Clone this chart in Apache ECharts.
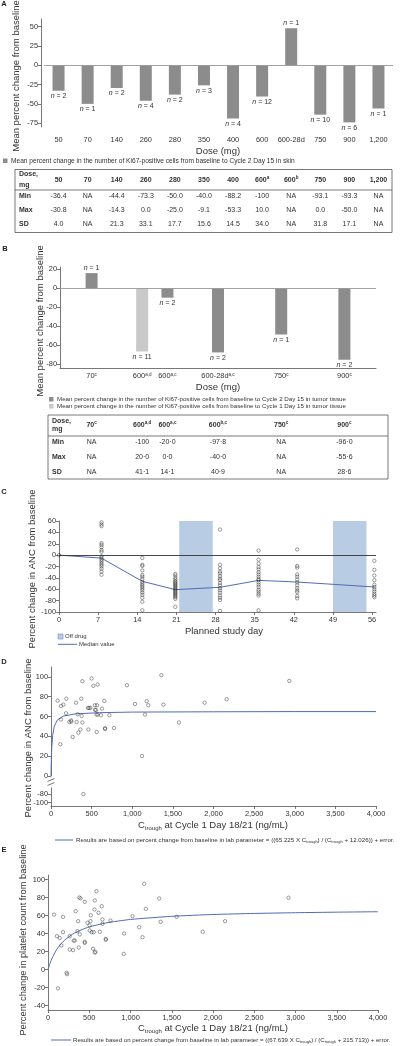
<!DOCTYPE html>
<html><head><meta charset="utf-8">
<script src="https://cdn.jsdelivr.net/npm/echarts@6/dist/echarts.min.js"></script>
<style>html,body{margin:0;padding:0;background:#fff}#c{width:400px;height:1046px}</style>
</head><body><div id="c"></div>
<script>
const FONT = '"Liberation Sans", Arial, Helvetica, sans-serif';

// ---------- Panel A data ----------
const doseA = ['50','70','140','260','280','350','400','600','600-28d','750','900','1,200'];
const meanA = [-33,-50,-29.5,-46,-38,-26,-69,-40.5,48,-64,-74,-56];
const nA = [2,1,2,4,2,3,4,12,1,10,6,1];
const ticksA = [-75,-50,-25,0,25,50];
const tableHeadA = ['50','70','140','260','280','350','400','600{s|a}','600{s|b}','750','900','1,200'];
const minA = ['-36.4','NA','-44.4','-73.3','-50.0','-40.0','-88.2','-100','NA','-93.1','-93.3','NA'];
const maxA = ['-30.8','NA','-14.3','0.0','-25.0','-9.1','-53.3','10.0','NA','0.0','-50.0','NA'];
const sdA  = ['4.0','NA','21.3','33.1','17.7','15.6','14.5','34.0','NA','31.8','17.1','NA'];

// ---------- Panel B data ----------
const doseB = ['70{s|c}','600{s|a,d}','600{s|a,c}','600-28d{s|a,c}','750{s|c}','900{s|c}'];
const meanB = [16,-67,-10,-68,-49,-75.8];
const nB = [1,11,2,2,1,2];
const visitB = ['C2D15','C1D15','C2D15','C2D15','C2D15','C2D15'];
const ticksB = [-80,-60,-40,-20,0,20];
const tableHeadB = ['70{s|c}','600{s|a,d}','600{s|a,c}','600{s|b,c}','750{s|c}','900{s|c}'];
const minB = ['NA','-100','-20·0','-97·8','NA','-96·0'];
const maxB = ['NA','20·0','0·0','-40·0','NA','-55·6'];
const sdB  = ['NA','41·1','14·1','40·9','NA','28·6'];

// ---------- Panel C data ----------
const ancDays = [0, 7.6, 14.9, 20.8, 28.8, 35.7, 42.6, 56.4];
const ancValues = [
  [0],
  [57.7,54,51,21,18,14,9,6,-2,-5,-8,-11,-14,-17,-20,-24,-29,-34.5],
  [-5,-17,-19,-27,-35,-38,-42,-47,-50,-53,-56,-59,-62,-66,-70,-75,-82,-97],
  [-33,-36,-40,-43,-46,-48,-50,-52,-54,-56,-58,-60,-62,-64,-66,-68,-70,-72,-74,-77,-91],
  [45,-17,-23,-29,-32,-37,-41,-44,-49,-53,-58,-62,-66,-71,-75,-79,-98],
  [8,-8,-15,-21,-25,-30,-34,-38,-42,-44,-48,-52,-56,-61,-64,-68,-71,-97],
  [10,-19,-22,-34,-38,-43,-48,-53,-58,-62,-65,-72,-76],
  [-10,-26,-36,-44,-52,-56,-60,-64,-68,-71,-74]
];
const ancMedian = [0,-5.3,-46,-60.7,-56.6,-44.4,-47.3,-56];
const offDrugStart = [21.5, 49];
const offDrugEnd = [27.5, 55];
const ticksCx = [0,7,14,21,28,35,42,49,56];

// ---------- Panel D data ----------
const ctroughD = [82,123,152,189,185,123,308,328,373,386,377,386,246,455,470,485,500,521,574,540,566,541,555,560,575,615,628,656,718,935,1034,1157,1178,1198,1358,1383,1575,1891,2162,2933,115,226,250,267,337,361,460,562,665,665,775,1120,316,398];
const ancChangeD = [76,70.7,72,78,63.3,57,74,62.3,78,95.7,60.6,54,56,68.7,68.7,68.7,98.4,91,92.3,71.4,71.4,66.7,66.7,62,62,61.3,68,75.8,61.3,91.6,72.7,62,75.5,71.4,101.7,72,54,74,77.5,96,32,54.5,55,39.4,43.8,46.9,46.9,44.4,48.2,47.5,48.5,20.2,54.5,-80];
const fitDx = [0,2,5,10,20,40,80,150,300,600,1000,2000,3000,4000];
const fitDy = [0,9.3,19.2,29.6,40.7,50.2,56.7,60.4,62.7,63.9,64.5,64.8,65.0,65.0];
const ticksDup = [0,20,40,60,80,100];
const ticksDlow = [-100,-80];

// ---------- Panel E data ----------
const ctroughE = [73,182,109,142,182,263,312,336,365,357,385,380,395,446,446,478,503,515,519,530,555,506,567,587,563,612,652,660,660,628,701,757,923,1025,1105,1146,1166,1186,1348,1365,1559,1875,2146,2915,163,263,304,324,373,446,547,567,575,701,919,231,225,121];
const pltChangeE = [61,58.5,37,35,41.5,37,32,64.8,53.7,42.6,39,80,79,75.2,30.8,51.9,48.9,53.7,60.3,41.5,41.5,43.3,76.7,87,66.7,63,70.3,55.6,50.8,41.9,34.1,54.4,40,59.3,47,35.9,95.2,67.4,78.9,53,58.5,41.9,53.7,79.7,26.7,22.2,21.5,32.2,24.4,29.6,23,18.9,19.5,33,17.4,-5.2,-3.7,-21];
const fitEx = [0,25,50,100,150,200,300,400,500,700,1000,1500,2000,2500,3000,3500,4000];
const fitEy = [0,7.0,12.7,21.4,27.7,32.5,39.4,43.9,47.3,51.7,55.6,59.1,61.1,62.3,63.1,63.7,64.2];
const ticksE = [-40,-20,0,20,40,60,80,100];
const ticksX4000 = [0,500,1000,1500,2000,2500,3000,3500,4000];

// ---------- layout / style ----------
const AXC = '#555', TXT = '#333', BAR_DARK = '#8c8c8c', BAR_LIGHT = '#c9c9c9', BLUE = '#4f6cb7';
const nSlotsB = 25, slotB = [2,6,8,12,17,22];
const SUPR = { s: { fontSize: 4.6, verticalAlign: 'top', fontFamily: FONT, fill: TXT, color: TXT } };
const ITR = { i: { fontStyle: 'italic', fontSize: 7, fontFamily: FONT, color: TXT } };

function yAx(grid, min, max, ticks) {
  return { type: 'value', gridIndex: grid, min, max, splitLine: { show: false },
    axisLine: { show: true, onZero: false, lineStyle: { color: AXC, width: 0.8 } },
    axisTick: { show: true, length: 3, customValues: ticks, lineStyle: { color: AXC, width: 0.8 } },
    axisLabel: { customValues: ticks, fontSize: 7.4, color: TXT, margin: 3, fontFamily: FONT } };
}
function xVal(grid, min, max, ticks, show) {
  return { type: 'value', gridIndex: grid, min, max, show: show !== false, splitLine: { show: false },
    axisLine: { show: true, onZero: false, lineStyle: { color: AXC, width: 0.8 } },
    axisTick: { show: true, length: 3, customValues: ticks, lineStyle: { color: AXC, width: 0.8 } },
    axisLabel: { customValues: ticks, fontSize: 7.4, color: TXT, margin: 4, fontFamily: FONT,
      formatter: v => Number(v).toLocaleString('en-US') } };
}
const g = (left, top, width, height) => ({ left, top, width, height, containLabel: false, outerBoundsMode: 'none' });

const catB = Array.from({ length: nSlotsB }, (_, k) => { const i = slotB.indexOf(k); return i >= 0 ? doseB[i] : ''; });
const dataB = Array.from({ length: nSlotsB }, () => '-');
slotB.forEach((k, i) => {
  dataB[k] = { value: meanB[i], itemStyle: { color: visitB[i] === 'C1D15' ? BAR_LIGHT : BAR_DARK },
    label: { position: meanB[i] < 0 ? 'bottom' : 'top' } };
});

const scatterC = [];
ancDays.forEach((d, i) => ancValues[i].forEach(v => scatterC.push([d, v])));
const ptsD = ctroughD.map((x, i) => [x, ancChangeD[i]]);
const ptsE = ctroughE.map((x, i) => [x, pltChangeE[i]]);
const scatterStyle = { symbol: 'circle', symbolSize: 3.4, itemStyle: { color: 'rgba(255,255,255,0)', borderColor: '#222', borderWidth: 0.55 } };

const option = {
  animation: false,
  backgroundColor: '#fff',
  textStyle: { fontFamily: FONT },
  grid: [g(44, 19, 349, 108), g(60, 267, 316, 101), g(59, 521, 317, 91), g(51, 667, 325, 109), g(51, 788, 325, 18), g(48, 875, 330, 135)],
  xAxis: [
    { type: 'category', gridIndex: 0, data: doseA, axisLine: { show: false }, axisTick: { show: false },
      axisLabel: { interval: 0, fontSize: 7.4, color: TXT, margin: 9, fontFamily: FONT } },
    { type: 'category', gridIndex: 1, data: catB, axisLine: { show: true, onZero: false, lineStyle: { color: AXC, width: 0.8 } }, axisTick: { show: false },
      axisLabel: { interval: 0, fontSize: 7.4, color: TXT, margin: 4, fontFamily: FONT, rich: SUPR } },
    xVal(2, 0, 56.7, ticksCx),
    xVal(3, 0, 4000, ticksX4000, false),
    xVal(4, 0, 4000, ticksX4000),
    xVal(5, 0, 4000, ticksX4000)
  ],
  yAxis: [
    Object.assign(yAx(0, -80, 60, ticksA), { offset: 3 }),
    yAx(1, -84.5, 22.5, ticksB),
    yAx(2, -100, 60, [-100,-80,-60,-40,-20,0,20,40,60]),
    yAx(3, 0, 110, ticksDup),
    yAx(4, -107.5, -66, ticksDlow),
    yAx(5, -45, 105, ticksE)
  ],
  series: [
    { type: 'bar', xAxisIndex: 0, yAxisIndex: 0, barWidth: 12, itemStyle: { color: BAR_DARK },
      data: meanA.map(v => ({ value: v, label: { position: v < 0 ? 'bottom' : 'top' } })),
      label: { show: true, distance: 2, fontSize: 7, color: TXT, fontFamily: FONT, rich: ITR,
        formatter: p => '{i|n} = ' + nA[p.dataIndex] },
      markLine: { silent: true, symbol: 'none', label: { show: false }, lineStyle: { color: '#999', type: 'solid', width: 0.9 }, data: [{ yAxis: 0 }] } },
    { type: 'bar', xAxisIndex: 1, yAxisIndex: 1, barWidth: 12, data: dataB,
      label: { show: true, distance: 2, fontSize: 7, color: TXT, fontFamily: FONT, rich: ITR,
        formatter: p => '{i|n} = ' + nB[slotB.indexOf(p.dataIndex)] },
      markLine: { silent: true, symbol: 'none', label: { show: false }, lineStyle: { color: '#999', type: 'solid', width: 0.9 }, data: [{ yAxis: 0 }] } },
    { type: 'line', xAxisIndex: 2, yAxisIndex: 2, z: 2, symbol: 'none', lineStyle: { color: BLUE, width: 1 },
      data: ancDays.map((d, i) => [d, ancMedian[i]]),
      markArea: { silent: true, itemStyle: { color: '#b8cce4', opacity: 1 },
        data: offDrugStart.map((s, i) => [{ xAxis: s }, { xAxis: offDrugEnd[i] }]) },
      markLine: { silent: true, symbol: 'none', label: { show: false }, lineStyle: { color: '#333', type: 'solid', width: 0.9 }, data: [{ yAxis: 0 }] } },
    Object.assign({ type: 'scatter', xAxisIndex: 2, yAxisIndex: 2, z: 3, data: scatterC }, scatterStyle),
    Object.assign({ type: 'scatter', xAxisIndex: 3, yAxisIndex: 3, z: 3, data: ptsD.filter(p => p[1] >= 0) }, scatterStyle),
    Object.assign({ type: 'scatter', xAxisIndex: 4, yAxisIndex: 4, z: 3, data: ptsD.filter(p => p[1] < 0) }, scatterStyle),
    { type: 'line', xAxisIndex: 3, yAxisIndex: 3, z: 2, symbol: 'none', lineStyle: { color: BLUE, width: 1 },
      data: fitDx.map((x, i) => [x, fitDy[i]]) },
    Object.assign({ type: 'scatter', xAxisIndex: 5, yAxisIndex: 5, z: 3, data: ptsE }, scatterStyle),
    { type: 'line', xAxisIndex: 5, yAxisIndex: 5, z: 2, symbol: 'none', smooth: 0.2, lineStyle: { color: BLUE, width: 1 },
      data: fitEx.map((x, i) => [x, fitEy[i]]) }
  ]
};

const chart = echarts.init(document.getElementById('c'), null, { renderer: 'canvas' });
chart.setOption(option);

// ---------- text, legends, tables ----------
function txt(x, y, text, st, rot) {
  const el = { type: 'text', x, y, silent: true, z: 10,
    style: Object.assign({ text, fontFamily: FONT, fontSize: 7, fill: TXT, align: 'center', verticalAlign: 'middle' }, st || {}) };
  if (rot) el.rotation = rot;
  return el;
}
const G = [];
const R90 = Math.PI / 2;
// panel letters
[['A', 4, 4], ['B', 5, 249], ['C', 4, 492], ['D', 4, 662], ['E', 4, 850]].forEach(([t, x, y]) =>
  G.push(txt(x, y, t, { fontWeight: 'bold', fontSize: 7.5, fill: '#222' })));
// axis titles
G.push(txt(16, 76, 'Mean percent change from baseline', { fontSize: 9.5 }, R90));
G.push(txt(218, 151, 'Dose (mg)', { fontSize: 9.5 }));
G.push(txt(40, 321, 'Mean percent change from baseline', { fontSize: 9.5 }, R90));
G.push(txt(218, 387, 'Dose (mg)', { fontSize: 9.5 }));
G.push(txt(32, 569, 'Percent change in ANC from baseline', { fontSize: 9.5 }, R90));
G.push(txt(224, 631, 'Planned study day', { fontSize: 9.5 }));
G.push(txt(28, 738, 'Percent change in ANC from baseline', { fontSize: 9.5 }, R90));
G.push(txt(23, 940, 'Percent change in platelet count from baseline', { fontSize: 9.3 }, R90));
const SUBR = (fs) => ({ sub: { fontSize: fs, verticalAlign: 'bottom', fontFamily: FONT, fill: TXT } });
G.push(txt(213, 825, 'C{sub|trough} at Cycle 1 Day 18/21 (ng/mL)', { fontSize: 9.5, lineHeight: 12, rich: SUBR(6) }));
G.push(txt(213, 1028, 'C{sub|trough} at Cycle 1 Day 18/21 (ng/mL)', { fontSize: 9.5, lineHeight: 12, rich: SUBR(6) }));

// legends
G.push({ type: 'rect', silent: true, shape: { x: 3, y: 158.5, width: 4.5, height: 4.5 }, style: { fill: BAR_DARK } });
G.push(txt(11, 161, 'Mean percent change in the number of Ki67-positive cells from baseline to Cycle 2 Day 15 in skin', { fontSize: 6.6, align: 'left' }));
G.push({ type: 'rect', silent: true, shape: { x: 49, y: 397, width: 4.5, height: 4.5 }, style: { fill: BAR_DARK } });
G.push(txt(57, 399.5, 'Mean percent change in the number of Ki67-positive cells from baseline to Cycle 2 Day 15 in tumor tissue', { fontSize: 6.2, align: 'left' }));
G.push({ type: 'rect', silent: true, shape: { x: 49, y: 404, width: 4.5, height: 4.5 }, style: { fill: BAR_LIGHT } });
G.push(txt(57, 406.5, 'Mean percent change in the number of Ki67-positive cells from baseline to Cycle 1 Day 15 in tumor tissue', { fontSize: 6.2, align: 'left' }));
G.push({ type: 'rect', silent: true, shape: { x: 58, y: 634, width: 5, height: 5 }, style: { fill: '#b8cce4', stroke: '#6e8fc7', lineWidth: 0.6 } });
G.push(txt(65, 636.5, 'Off drug', { fontSize: 6, align: 'left' }));
G.push({ type: 'line', silent: true, shape: { x1: 58, y1: 644.3, x2: 77, y2: 644.3 }, style: { stroke: BLUE, lineWidth: 1 } });
G.push(txt(79, 644.3, 'Median value', { fontSize: 6, align: 'left' }));
G.push({ type: 'line', silent: true, shape: { x1: 55, y1: 840, x2: 73, y2: 840 }, style: { stroke: BLUE, lineWidth: 1 } });
G.push(txt(76, 840, 'Results are based on percent change from baseline in lab parameter = ((65.225 X C{sub|trough}) / (C{sub|trough} + 12.026)) + error.', { fontSize: 6.2, lineHeight: 8, align: 'left', rich: SUBR(4) }));
G.push({ type: 'line', silent: true, shape: { x1: 51, y1: 1040, x2: 71, y2: 1040 }, style: { stroke: BLUE, lineWidth: 1 } });
G.push(txt(73, 1040, 'Results are based on percent change from baseline in lab parameter = ((67.639 X C{sub|trough}) / (C{sub|trough} + 215.713)) + error.', { fontSize: 6.1, lineHeight: 8, align: 'left', rich: SUBR(4) }));

// axis break marks in D
G.push({ type: 'line', silent: true, shape: { x1: 47.5, y1: 781.5, x2: 54.5, y2: 778.5 }, style: { stroke: AXC, lineWidth: 0.8 } });
G.push({ type: 'line', silent: true, shape: { x1: 47.5, y1: 785.5, x2: 54.5, y2: 782.5 }, style: { stroke: AXC, lineWidth: 0.8 } });

// tables
const SUPB = { s: { fontSize: 4.6, verticalAlign: 'top', fontFamily: FONT, fontWeight: 'bold', fill: TXT } };
function table(box, labelX, cols, head, rows, ys) {
  G.push({ type: 'rect', silent: true, shape: { x: box.x0, y: box.y0, width: box.x1 - box.x0, height: box.y1 - box.y0 }, style: { fill: 'none', stroke: '#555', lineWidth: 0.8 } });
  G.push({ type: 'line', silent: true, shape: { x1: box.x0, y1: box.ySep, x2: box.x1, y2: box.ySep }, style: { stroke: '#555', lineWidth: 0.8 } });
  G.push(txt(labelX, ys.dose, 'Dose,', { align: 'left', fontWeight: 'bold' }));
  G.push(txt(labelX, ys.mg, 'mg', { align: 'left', fontWeight: 'bold' }));
  head.forEach((h, i) => G.push(txt(cols[i], ys.head, h, { fontWeight: 'bold', lineHeight: 9, rich: SUPB })));
  ['Min', 'Max', 'SD'].forEach((r, k) => {
    G.push(txt(labelX, ys.rows[k], r, { align: 'left', fontWeight: 'bold' }));
    rows[k].forEach((v, i) => G.push(txt(cols[i], ys.rows[k], v)));
  });
}
const colsA = doseA.map((d, i) => chart.convertToPixel({ xAxisIndex: 0 }, i));
table({ x0: 15, x1: 392, y0: 169.5, ySep: 190, y1: 232.5 }, 19, colsA, tableHeadA, [minA, maxA, sdA],
  { dose: 174.5, mg: 185, head: 180, rows: [196.5, 210.5, 224.5] });
const colsB = slotB.map(k => chart.convertToPixel({ xAxisIndex: 1 }, k));
table({ x0: 48, x1: 388, y0: 415, ySep: 436, y1: 479 }, 52, colsB, tableHeadB, [minB, maxB, sdB],
  { dose: 421, mg: 429.5, head: 425, rows: [442, 457, 472] });

chart.setOption({ graphic: { elements: G } });
</script>
</body></html>
